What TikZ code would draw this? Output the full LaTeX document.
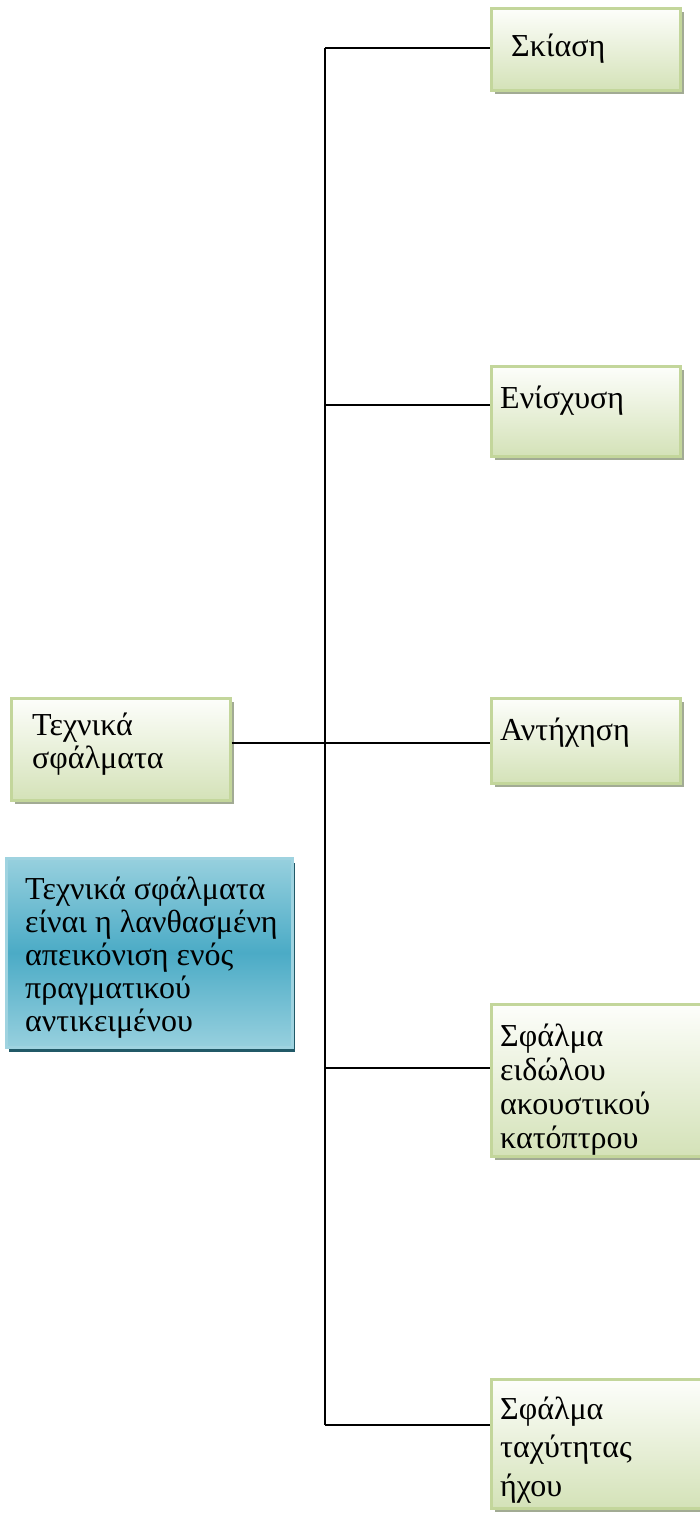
\documentclass[tikz,border=0pt]{standalone}
\usepackage{fontspec}
\setmainfont{Liberation Serif}
\usetikzlibrary{shadows,calc}
\definecolor{gborder}{HTML}{C3D69B}
\definecolor{gtop}{HTML}{FDFEFB}
\definecolor{gbot}{HTML}{D4E2B8}
\definecolor{gshadow}{HTML}{A2AB94}
\definecolor{bborder}{HTML}{9FD3E0}
\definecolor{blight}{HTML}{97D0DE}
\definecolor{bmid}{HTML}{4BABC6}
\definecolor{bshadow}{HTML}{215967}
\newcommand{\boxlines}[2]{\parbox[t]{300pt}{\fontsize{32}{#1}\selectfont\raggedright #2}}
\tikzset{
  greenbox/.style={draw=gborder, line width=2.5pt, top color=gtop, bottom color=gbot,
    anchor=north west, inner sep=0pt,
    drop shadow={shadow xshift=4pt, shadow yshift=-4pt, fill=gshadow, opacity=1}},
  bluebox/.style={draw=bborder, line width=2.5pt, top color=blight, bottom color=blight, middle color=bmid,
    anchor=north west, inner sep=0pt,
    drop shadow={shadow xshift=3pt, shadow yshift=-5pt, fill=bshadow, opacity=1}},
  boxtext/.style={anchor=base west, inner sep=0pt},
  conn/.style={draw=black, line width=1.5pt}
}
\begin{document}
\begin{tikzpicture}[x=1pt,y=-1pt]
\useasboundingbox[fill=white] (0,0) rectangle (699,1513);
% boxes
\node[greenbox, minimum width=189pt, minimum height=82pt] (b1) at (490,7) {};
\node[greenbox, minimum width=189pt, minimum height=90pt] (b2) at (490,365) {};
\node[greenbox, minimum width=189pt, minimum height=85pt] (b3) at (490,697) {};
\node[greenbox, minimum width=240pt, minimum height=152pt] (b4) at (490,1003) {};
\node[greenbox, minimum width=240pt, minimum height=129pt] (b5) at (490,1378) {};
\node[greenbox, minimum width=219pt, minimum height=102pt] (m) at (10,697) {};
\node[bluebox, minimum width=286pt, minimum height=189pt] (d) at (5,857) {};
% texts
\node[boxtext] (t1) at (511,56) {\boxlines{34}{Σκίαση}};
\node[boxtext] (t2) at (500,408) {\boxlines{34}{Ενίσχυση}};
\node[boxtext] (t3) at (500,740) {\boxlines{34}{Αντήχηση}};
\node[boxtext] (t4) at (500,1046) {\boxlines{34}{Σφάλμα\\ειδώλου\\ακουστικού\\κατόπτρου}};
\node[boxtext] (t5) at (500,1419) {\boxlines{38.5}{Σφάλμα\\ταχύτητας\\ήχου}};
\node[boxtext] (tm) at (32,735) {\boxlines{33}{Τεχνικά\\σφάλματα}};
\node[boxtext] (td) at (25,899) {\boxlines{33.2}{Τεχνικά σφάλματα\\είναι η λανθασμένη\\απεικόνιση ενός\\πραγματικού\\αντικειμένου}};
% connectors
\coordinate (c1) at (325,48);
\coordinate (c2) at (325,405);
\coordinate (c3) at (325,743);
\coordinate (c4) at (325,1068);
\coordinate (c5) at (325,1425);
\draw[conn] (c1) -- (c5);
\draw[conn] (c1) -- (c1 -| b1.west);
\draw[conn] (c2) -- (c2 -| b2.west);
\draw[conn] (c3 -| m.east) -- (c3 -| b3.west);
\draw[conn] (c4) -- (c4 -| b4.west);
\draw[conn] (c5) -- (c5 -| b5.west);
\end{tikzpicture}
\end{document}
